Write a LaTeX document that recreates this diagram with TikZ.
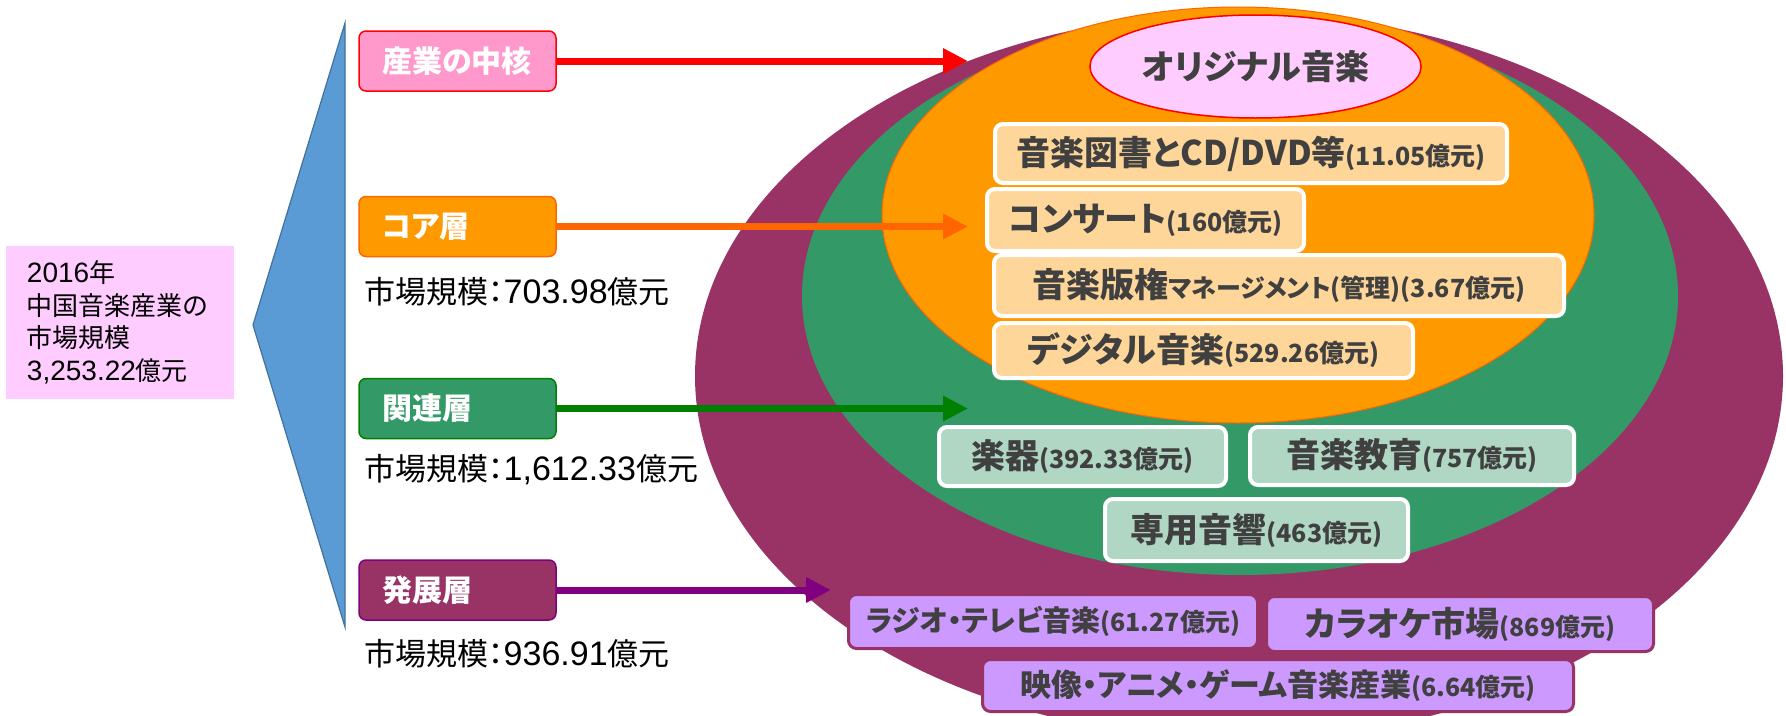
\documentclass[tikz,border=0pt]{standalone}
\usepackage{fontspec}
\setmainfont{Noto Sans CJK JP}
\newfontfamily\jpfont[RawFeature=+palt]{Noto Sans CJK JP}
\newfontfamily\numfont{Liberation Sans}
\usetikzlibrary{arrows.meta}
\usetikzlibrary{shapes.geometric}
\definecolor{devpurple}{HTML}{993366}
\definecolor{relgreen}{HTML}{339966}
\definecolor{coreorange}{HTML}{FF9900}
\definecolor{origpink}{HTML}{FFCCFF}
\definecolor{corefill}{HTML}{FFD699}
\definecolor{relfill}{HTML}{B0D6C4}
\definecolor{devfill}{HTML}{CC99FF}
\definecolor{boxtext}{HTML}{404040}
\definecolor{centerpink}{HTML}{FF99CC}
\definecolor{sideblue}{HTML}{5B9BD5}
\definecolor{sideedge}{HTML}{41719C}
\definecolor{arroworange}{HTML}{FF6600}
\definecolor{arrowgreen}{HTML}{008000}
\definecolor{arrowpurple}{HTML}{800080}
\newcommand{\bname}[1]{{\fontsize{34}{38}\selectfont #1}}
\newcommand{\dname}[1]{{\fontsize{29}{34}\selectfont #1}}
\newcommand{\mname}[1]{{\fontsize{31}{36}\selectfont #1}}
\newcommand{\bval}[1]{{\fontsize{25}{30}\selectfont #1}}
\newcommand{\amount}[1]{{\numfont\fontsize{34}{38}\selectfont #1}}
\newcommand{\tamount}[1]{{\numfont\fontsize{28}{32}\selectfont #1}}
\begin{document}
\begin{tikzpicture}[x=1pt,y=-1pt,
        layerbox/.style={rounded corners=7pt, line width=1.5pt, minimum height=60pt, text width=151pt, inner xsep=23pt, inner ysep=0pt, align=left, text=white, font=\jpfont\bfseries\fontsize{30}{34}\selectfont},
        sizetext/.style={anchor=west, inner sep=0pt, font=\jpfont\fontsize{31}{36}\selectfont},
        marketbox/.style={draw=white, line width=4pt, rounded corners=8pt, inner sep=0pt, text=boxtext, font=\jpfont\bfseries},
        corebox/.style={marketbox, fill=corefill},
        relbox/.style={marketbox, fill=relfill},
        devbox/.style={marketbox, draw=devpurple, line width=3pt, fill=devfill},
        layerarrow/.style={line width=7pt, -{Triangle[length=25pt,width=24pt]}}]
        \useasboundingbox (0,0) rectangle (1786,715);
        \fill[devpurple] (1239,376) ellipse [x radius=544, y radius=363];
        \fill[relgreen] (1240,296) ellipse [x radius=438, y radius=279];
        \draw[arroworange, fill=coreorange, line width=1pt] (1238,215) ellipse [x radius=356, y radius=208];
        \node[ellipse, draw=red, line width=1.5pt, fill=origpink, minimum width=331pt, minimum height=103pt, text=boxtext, font=\jpfont\bfseries\fontsize{34}{38}\selectfont] (orig) at (1255.5,66.5) {オリジナル音楽};
        \draw[sideedge, fill=sideblue, line width=1.2pt] (345,23) -- (253,325) -- (345,627) -- cycle;
        \node[fill=origpink, text width=186pt, inner xsep=21pt, minimum height=153pt, align=left, font=\jpfont\fontsize{26}{32.5}\selectfont] (total) at (120,322.5) {\tamount{2016}年\\中国音楽産業の\\市場規模\\\tamount{3,253.22}億元};
        \node[layerbox, draw=red, fill=centerpink] (nucleus) at (457.5,61) {産業の中核};
        \node[layerbox, draw=arroworange, fill=coreorange] (corelayer) at (457.5,226.5) {コア層};
        \node[layerbox, draw=arrowgreen, fill=relgreen] (rellayer) at (457.5,408.5) {関連層};
        \node[layerbox, draw=arrowpurple, fill=devpurple] (devlayer) at (457.5,590) {発展層};
        \node[sizetext] (coresize) at (364,292) {市場規模：\amount{703.98}億元};
        \node[sizetext] (relsize) at (364,470) {市場規模：\amount{1,612.33}億元};
        \node[sizetext] (devsize) at (364,654) {市場規模：\amount{936.91}億元};
        \coordinate (nucleustip) at (968,61);
        \coordinate (coretip) at (968,226.5);
        \coordinate (reltip) at (968,408.5);
        \coordinate (devtip) at (831,590);
        \draw[layerarrow, red] (nucleus) -- (nucleustip);
        \draw[layerarrow, arroworange] (corelayer) -- (coretip);
        \draw[layerarrow, arrowgreen] (rellayer) -- (reltip);
        \draw[layerarrow, arrowpurple] (devlayer) -- (devtip);
        \node[corebox, minimum width=512pt, minimum height=59pt] (books) at (1251,153.5) {\bname{音楽図書とCD/DVD等}\bval{(11.05億元)}};
        \node[corebox, minimum width=317pt, minimum height=62pt] (concert) at (1145.5,220) {\bname{コンサート}\bval{(160億元)}};
        \node[corebox, minimum width=570pt, minimum height=61pt] (rights) at (1279,285.5) {\bname{音楽版権}\bval{マネージメント(管理)(3.67億元)}};
        \node[corebox, minimum width=419pt, minimum height=55pt] (digital) at (1203.5,350.5) {\bname{デジタル音楽}\bval{(529.26億元)}};
        \node[relbox, minimum width=287pt, minimum height=59pt] (instr) at (1082.5,456.5) {\bname{楽器}\bval{(392.33億元)}};
        \node[relbox, minimum width=324pt, minimum height=58pt] (edu) at (1412,456) {\bname{音楽教育}\bval{(757億元)}};
        \node[relbox, minimum width=303pt, minimum height=62pt] (audio) at (1256.5,530) {\bname{専用音響}\bval{(463億元)}};
        \node[devbox, minimum width=409pt, minimum height=54pt] (radio) at (1053,621.5) {\dname{ラジオ・テレビ音楽}\bval{(61.27億元)}};
        \node[devbox, minimum width=387pt, minimum height=55pt] (karaoke) at (1460,624) {\bname{カラオケ市場}\bval{(869億元)}};
        \node[devbox, minimum width=591pt, minimum height=52pt] (media) at (1278,685.5) {\mname{映像・アニメ・ゲーム音楽産業}\bval{(6.64億元)}};
\end{tikzpicture}
\end{document}
